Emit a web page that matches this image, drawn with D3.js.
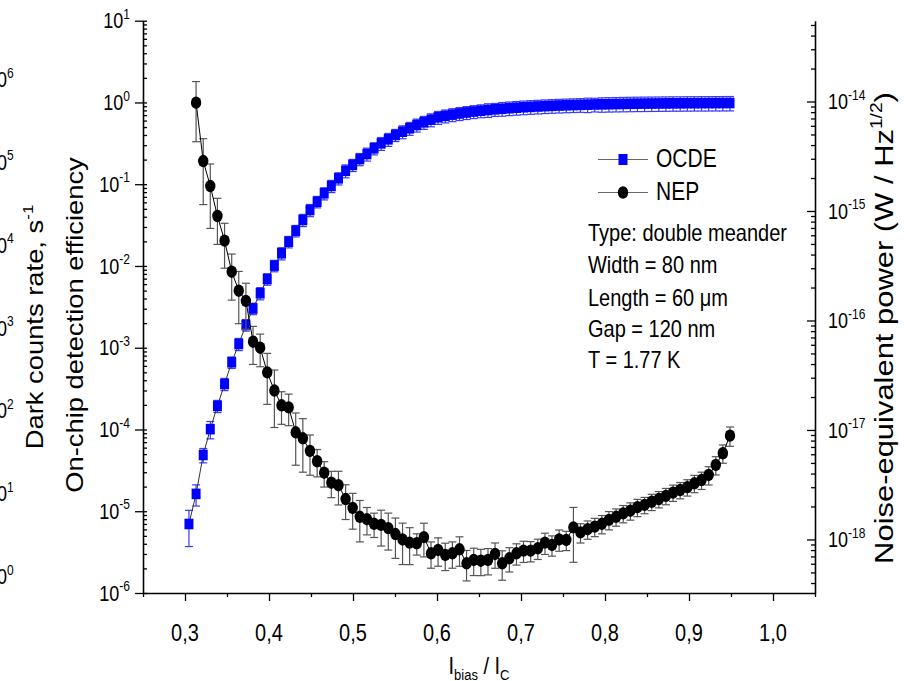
<!DOCTYPE html>
<html>
<head>
<meta charset="utf-8">
<script src="https://cdn.jsdelivr.net/npm/d3@7"></script>
<style>
body { margin: 0; background: #fff; }
text { font-family: "Liberation Sans", Arial, sans-serif; fill: #000; }
</style>
</head>
<body>
<div id="chart"></div>
<script>
const WIDTH = 904;
const HEIGHT = 681;
const SY = 1.19; // the picture is stretched vertically, so is its text

// bias current, I_bias / I_C (shared grid of both series)
const ibias = [0.3047, 0.3132, 0.3217, 0.3301, 0.3386, 0.3471, 0.3556, 0.3640, 0.3725, 0.3810,
    0.3895, 0.3979, 0.4064, 0.4149, 0.4234, 0.4318, 0.4403, 0.4488, 0.4573, 0.4657,
    0.4742, 0.4827, 0.4912, 0.4996, 0.5081, 0.5166, 0.5251, 0.5335, 0.5420, 0.5505,
    0.5590, 0.5674, 0.5759, 0.5844, 0.5929, 0.6013, 0.6098, 0.6183, 0.6268, 0.6352,
    0.6437, 0.6522, 0.6607, 0.6691, 0.6776, 0.6861, 0.6946, 0.7030, 0.7115, 0.7200,
    0.7285, 0.7369, 0.7454, 0.7539, 0.7624, 0.7708, 0.7793, 0.7878, 0.7963, 0.8047,
    0.8132, 0.8217, 0.8302, 0.8386, 0.8471, 0.8556, 0.8641, 0.8725, 0.8810, 0.8895,
    0.8980, 0.9064, 0.9149, 0.9234, 0.9319, 0.9403, 0.9488];

// on-chip detection efficiency
const ocde = [6.98e-6, 1.63e-5, 4.88e-5, 1.01e-4, 1.94e-4, 3.60e-4, 6.64e-4, 1.11e-3, 1.90e-3, 3.02e-3,
    4.64e-3, 6.92e-3, 1.01e-2, 1.43e-2, 1.98e-2, 2.70e-2, 3.65e-2, 4.83e-2, 6.11e-2, 7.74e-2,
    9.51e-2, 0.118, 0.146, 0.172, 0.203, 0.234, 0.275, 0.316, 0.354, 0.400,
    0.439, 0.483, 0.530, 0.572, 0.615, 0.658, 0.685, 0.710, 0.733, 0.754,
    0.774, 0.792, 0.809, 0.824, 0.838, 0.851, 0.863, 0.874, 0.884, 0.893,
    0.902, 0.910, 0.917, 0.924, 0.930, 0.935, 0.940, 0.945, 0.949, 0.953,
    0.957, 0.960, 0.963, 0.966, 0.968, 0.970, 0.972, 0.974, 0.976, 0.977,
    0.979, 0.980, 0.981, 0.982, 0.983, 0.984, 0.985];
// relative error of ocde
const ocdeErr = [0.47, 0.29, 0.20, 0.24, 0.17, 0.17, 0.16, 0.17, 0.16, 0.16,
    0.17, 0.16, 0.16, 0.17, 0.16, 0.16, 0.17, 0.17, 0.16, 0.17,
    0.17, 0.17, 0.18, 0.17, 0.17, 0.18, 0.17, 0.18, 0.18, 0.17,
    0.18, 0.18, 0.18, 0.18, 0.18, 0.18, 0.18, 0.18, 0.18, 0.18,
    0.18, 0.18, 0.19, 0.18, 0.19, 0.19, 0.19, 0.19, 0.19, 0.19,
    0.19, 0.19, 0.19, 0.19, 0.19, 0.19, 0.20, 0.19, 0.20, 0.20,
    0.20, 0.20, 0.20, 0.20, 0.20, 0.20, 0.20, 0.20, 0.20, 0.20,
    0.20, 0.20, 0.20, 0.20, 0.20, 0.20, 0.20];

// noise-equivalent power, W/Hz^1/2 (starts at the second bias point)
const nep = [9.75e-15, 2.86e-15, 1.69e-15, 9.0e-16, 5.36e-16, 2.79e-16, 1.87e-16, 1.51e-16, 6.40e-17, 5.64e-17,
    3.36e-17, 2.29e-17, 1.68e-17, 1.61e-17, 9.53e-18, 8.40e-18, 6.43e-18, 5.18e-18, 4.07e-18, 3.30e-18,
    3.13e-18, 2.34e-18, 1.94e-18, 1.61e-18, 1.53e-18, 1.39e-18, 1.36e-18, 1.27e-18, 1.12e-18, 1.00e-18,
    9.35e-19, 9.23e-19, 1.05e-18, 7.48e-19, 8.02e-19, 7.22e-19, 7.48e-19, 8.13e-19, 6.06e-19, 6.50e-19,
    6.40e-19, 6.50e-19, 7.37e-19, 6.06e-19, 6.73e-19, 7.48e-19, 7.90e-19, 7.90e-19, 8.31e-19, 9.35e-19,
    8.91e-19, 1.00e-18, 9.89e-19, 1.29e-18, 1.16e-18, 1.24e-18, 1.31e-18, 1.39e-18, 1.51e-18, 1.61e-18,
    1.73e-18, 1.83e-18, 1.97e-18, 2.07e-18, 2.21e-18, 2.34e-18, 2.50e-18, 2.68e-18, 2.83e-18, 3.00e-18,
    3.26e-18, 3.49e-18, 3.88e-18, 4.79e-18, 6.13e-18, 8.87e-18];
// relative error of nep
const nepErr = [0.56, 0.60, 0.59, 0.45, 0.44, 0.45, 0.50, 0.45, 0.38, 0.33,
    0.49, 0.54, 0.33, 0.32, 0.50, 0.51, 0.40, 0.28, 0.26, 0.27,
    0.34, 0.35, 0.36, 0.41, 0.28, 0.25, 0.36, 0.37, 0.40, 0.41,
    0.37, 0.22, 0.34, 0.27, 0.29, 0.28, 0.27, 0.30, 0.31, 0.28,
    0.27, 0.27, 0.26, 0.30, 0.25, 0.22, 0.22, 0.21, 0.21, 0.22,
    0.21, 0.22, 0.20, 0.52, 0.20, 0.19, 0.19, 0.19, 0.19, 0.18,
    0.18, 0.18, 0.18, 0.17, 0.17, 0.17, 0.17, 0.17, 0.17, 0.17,
    0.18, 0.18, 0.19, 0.19, 0.19, 0.20];

const xMajor = [0.3, 0.4, 0.5, 0.6, 0.7, 0.8, 0.9, 1.0];
const xMinor = [0.25, 0.35, 0.45, 0.55, 0.65, 0.75, 0.85, 0.95, 1.05];
const leftExp = [-6, -5, -4, -3, -2, -1, 0, 1];
const rightExp = [-18, -17, -16, -15, -14];
const darkExp = [0, 1, 2, 3, 4, 5, 6]; // axis of the neighbouring panel, cut off at the left

const info = ['Type: double meander', 'Width = 80 nm', 'Length = 60 \u03bcm', 'Gap = 120 nm', 'T = 1.77 K'];
const infoY = [241, 273, 306, 337, 368];

const SVG = d3.select('#chart').append('svg')
    .attr('width', WIDTH)
    .attr('height', HEIGHT);

const x = d3.scaleLinear().domain([0.25, 1.05]).range([143, 815]);
const yL = d3.scaleLog().domain([1e-6, 10]).range([593, 20.7]);
const yR = d3.scaleLog().domain([Math.pow(10, -18.489), Math.pow(10, -13.262)]).range([593, 20.7]);
const yDark = d3.scaleLog().domain([1, 1e6]).range([576.5, 79.5]);

function styleAxis(g, showDomain) {
    g.selectAll('.tick text').remove();
    g.selectAll('.tick line').attr('stroke', '#000').attr('stroke-width', 1.3);
    if (showDomain) g.select('.domain').attr('stroke', '#000').attr('stroke-width', 1.6);
    else g.select('.domain').remove();
}

// label like 10^n, centred on y
function powLabel(px, py, exp, anchor) {
    const g = SVG.append('g').attr('transform', `translate(${px},${py}) scale(1,${SY})`);
    const t = g.append('text').attr('font-size', 18).attr('y', 6.4).attr('text-anchor', anchor);
    t.append('tspan').text('10');
    t.append('tspan').attr('font-size', 12).attr('dy', -8).text(exp);
}

// x axis
const xAx = SVG.append('g').attr('transform', 'translate(0,593)')
    .call(d3.axisBottom(x).tickValues(xMajor).tickSize(8).tickSizeOuter(0).tickFormat(''));
styleAxis(xAx, true);
const xAxMinor = SVG.append('g').attr('transform', 'translate(0,593)')
    .call(d3.axisBottom(x).tickValues(xMinor).tickSize(4).tickSizeOuter(0).tickFormat(''));
styleAxis(xAxMinor, false);
xMajor.forEach(v => {
    SVG.append('g').attr('transform', `translate(${x(v)},641) scale(1,${SY})`)
        .append('text').attr('font-size', 20).attr('text-anchor', 'middle')
        .text(d3.format('.1f')(v).replace('.', ','));
});

// left axis (OCDE)
const decL = leftExp.map(e => Math.pow(10, e));
const minorL = yL.ticks().filter(v => !decL.some(d => Math.abs(v / d - 1) < 1e-6));
const yAxL = SVG.append('g').attr('transform', 'translate(143,0)')
    .call(d3.axisLeft(yL).tickValues(decL).tickSize(8).tickSizeOuter(0).tickFormat(''));
styleAxis(yAxL, true);
const yAxLin = SVG.append('g').attr('transform', 'translate(143,0)')
    .call(d3.axisLeft(yL).tickValues(decL).tickSize(-4).tickSizeOuter(0).tickFormat(''));
styleAxis(yAxLin, false);
const yAxLmin = SVG.append('g').attr('transform', 'translate(143,0)')
    .call(d3.axisLeft(yL).tickValues(minorL).tickSize(-4).tickSizeOuter(0).tickFormat(''));
styleAxis(yAxLmin, false);
leftExp.forEach(e => powLabel(130, yL(Math.pow(10, e)), String(e), 'end'));

// right axis (NEP)
const decR = rightExp.map(e => Math.pow(10, e));
const minorR = yR.ticks().filter(v => !decR.some(d => Math.abs(v / d - 1) < 1e-6));
const yAxR = SVG.append('g').attr('transform', 'translate(815,0)')
    .call(d3.axisRight(yR).tickValues(decR).tickSize(-8).tickSizeOuter(0).tickFormat(''));
styleAxis(yAxR, true);
const yAxRmin = SVG.append('g').attr('transform', 'translate(815,0)')
    .call(d3.axisRight(yR).tickValues(minorR).tickSize(-4).tickSizeOuter(0).tickFormat(''));
styleAxis(yAxRmin, false);
rightExp.forEach(e => powLabel(828, yR(Math.pow(10, e)), String(e), 'start'));

// labels of the cut-off dark count axis
darkExp.forEach(e => powLabel(-13, yDark(Math.pow(10, e)), String(e), 'start'));

// axis titles
function rotTitle(px, py, fs, parts) {
    const g = SVG.append('g').attr('transform', `translate(${px},${py}) rotate(-90) scale(${SY},1)`);
    const t = g.append('text').attr('font-size', fs).attr('text-anchor', 'middle');
    parts.forEach(p => {
        const s = t.append('tspan').text(p.t);
        if (p.sup) s.attr('font-size', fs * 0.62).attr('dy', -fs * 0.42);
        if (p.back) s.attr('dy', fs * 0.42);
    });
}
rotTitle(43, 327, 23, [{ t: 'Dark counts rate, s' }, { t: '-1', sup: true }]);
rotTitle(83, 325, 23, [{ t: 'On-chip detection efficiency' }]);
rotTitle(893, 328, 26, [{ t: 'Noise-equivalent power (W / Hz' }, { t: '1/2', sup: true }, { t: ')', back: true }]);

const xt = SVG.append('g').attr('transform', `translate(479,674) scale(1,${SY})`)
    .append('text').attr('font-size', 20).attr('text-anchor', 'middle');
xt.append('tspan').text('I');
xt.append('tspan').attr('font-size', 13).attr('dy', 5).text('bias');
xt.append('tspan').attr('dy', -5).text(' / I');
xt.append('tspan').attr('font-size', 13).attr('dy', 5).text('C');

// error bars
function errorBars(xs, vals, errs, yScale, colour) {
    const g = SVG.append('g').attr('stroke', colour).attr('stroke-width', 1.2).attr('fill', 'none');
    vals.forEach((v, i) => {
        const cx = x(xs[i]);
        const y1 = yScale(v * (1 + errs[i]));
        const y2 = yScale(v * (1 - errs[i]));
        g.append('line').attr('x1', cx).attr('x2', cx).attr('y1', y1).attr('y2', y2);
        g.append('line').attr('x1', cx - 4).attr('x2', cx + 4).attr('y1', y1).attr('y2', y1);
        g.append('line').attr('x1', cx - 4).attr('x2', cx + 4).attr('y1', y2).attr('y2', y2);
    });
}

const nepX = ibias.slice(1);

// OCDE series
errorBars(ibias, ocde, ocdeErr, yL, '#3a3aff');
SVG.append('path')
    .datum(ocde)
    .attr('fill', 'none').attr('stroke', '#333').attr('stroke-width', 1)
    .attr('d', d3.line().x((d, i) => x(ibias[i])).y(d => yL(d)));
SVG.append('g').selectAll('rect')
    .data(ocde)
    .enter().append('rect')
    .attr('x', (d, i) => x(ibias[i]) - 4.5)
    .attr('y', d => yL(d) - 5.3)
    .attr('width', 9).attr('height', 10.6)
    .attr('fill', '#0000ff');

// NEP series
errorBars(nepX, nep, nepErr, yR, '#555');
SVG.append('path')
    .datum(nep)
    .attr('fill', 'none').attr('stroke', '#000').attr('stroke-width', 1)
    .attr('d', d3.line().x((d, i) => x(nepX[i])).y(d => yR(d)));
SVG.append('g').selectAll('ellipse')
    .data(nep)
    .enter().append('ellipse')
    .attr('cx', (d, i) => x(nepX[i]))
    .attr('cy', d => yR(d))
    .attr('rx', 5.2).attr('ry', 6.2)
    .attr('fill', '#000');

// legend
const legend = SVG.append('g');
legend.append('line').attr('x1', 598).attr('x2', 648).attr('y1', 159.5).attr('y2', 159.5).attr('stroke', '#666');
legend.append('rect').attr('x', 618.5).attr('y', 154).attr('width', 9).attr('height', 11).attr('fill', '#0000ff');
legend.append('line').attr('x1', 598).attr('x2', 648).attr('y1', 192.5).attr('y2', 192.5).attr('stroke', '#666');
legend.append('ellipse').attr('cx', 623).attr('cy', 192.5).attr('rx', 5.2).attr('ry', 6.2).attr('fill', '#000');
[['OCDE', 167.3], ['NEP', 200]].forEach(([t, py]) => {
    SVG.append('g').attr('transform', `translate(656,${py}) scale(1,${SY})`)
        .append('text').attr('font-size', 21).text(t);
});

// sample info
info.forEach((t, i) => {
    SVG.append('g').attr('transform', `translate(588,${infoY[i]}) scale(1,${SY})`)
        .append('text').attr('font-size', 20).text(t);
});
</script>
</body>
</html>
